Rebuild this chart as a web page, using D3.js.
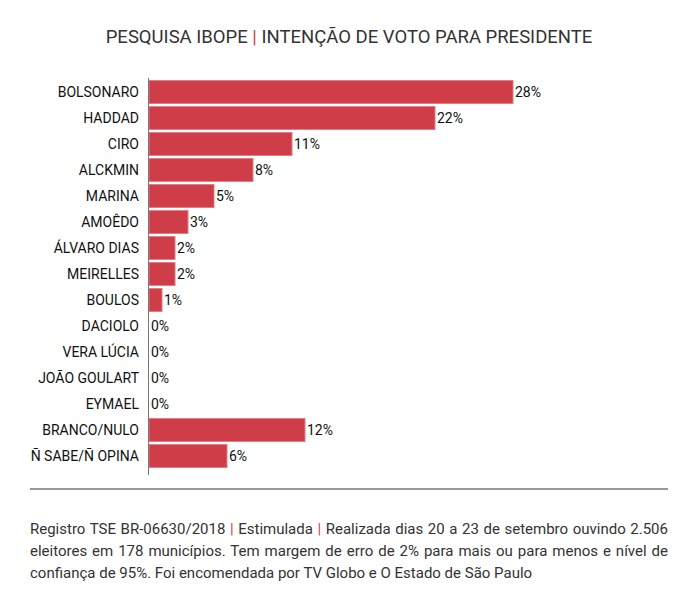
<!DOCTYPE html>
<html>
<head>
<meta charset="utf-8">
<script src="https://cdn.jsdelivr.net/npm/d3@7"></script>
<style>
  body { margin: 0; background: #fff; font-family: Roboto, sans-serif; }
  #chart { width: 697px; height: 607px; position: relative; }
  .note {
    position: absolute; left: 30px; top: 518px; width: 638px;
    font-size: 15px; line-height: 22px; color: #333; text-align: justify;
    text-align-last: left;
  }
  .note span { color: #cf3d48; }
</style>
</head>
<body>
<div id="chart"><svg id="svg" width="697" height="607"></svg>
  <div class="note">Registro TSE BR-06630/2018 <span>|</span> Estimulada <span>|</span> Realizada dias 20 a 23 de setembro ouvindo 2.506 eleitores em 178 municípios. Tem margem de erro de 2% para mais ou para menos e nível de confiança de 95%. Foi encomendada por TV Globo e O Estado de São Paulo</div>
</div>
<script>
var candidates = ["BOLSONARO", "HADDAD", "CIRO", "ALCKMIN", "MARINA", "AMOÊDO", "ÁLVARO DIAS",
  "MEIRELLES", "BOULOS", "DACIOLO", "VERA LÚCIA", "JOÃO GOULART", "EYMAEL", "BRANCO/NULO", "Ñ SABE/Ñ OPINA"];
var votes = [28, 22, 11, 8, 5, 3, 2, 2, 1, 0, 0, 0, 0, 12, 6];

var svg = d3.select("#svg");

// title
var title = svg.append("text")
  .attr("x", 349).attr("y", 43)
  .attr("text-anchor", "middle")
  .style("font-size", "18.5px")
  .style("fill", "#333");
title.append("tspan").text("PESQUISA IBOPE ");
title.append("tspan").text("|").style("fill", "#cf3d48");
title.append("tspan").text(" INTENÇÃO DE VOTO PARA PRESIDENTE");

var x = d3.scaleLinear().domain([0, 28]).range([149, 513]);
var y = d3.scaleBand().domain(candidates).range([79, 469]).paddingInner(0.12).paddingOuter(0.06);

var data = candidates.map(function(c, i) { return { name: c, value: votes[i] }; });

svg.selectAll("rect.bar")
  .data(data)
  .enter()
  .append("rect")
  .attr("class", "bar")
  .attr("x", x(0))
  .attr("y", function(d) { return y(d.name); })
  .attr("width", function(d) { return x(d.value) - x(0); })
  .attr("height", y.bandwidth())
  .attr("fill", "#cf3d48")
  .attr("stroke", function(d) { return d.value > 0 ? "#e07a82" : "none"; })
  .attr("stroke-width", 1);

// names
svg.selectAll("text.name")
  .data(data)
  .enter()
  .append("text")
  .attr("class", "name")
  .attr("x", 139)
  .attr("y", function(d) { return y(d.name) + y.bandwidth() / 2; })
  .attr("dy", "0.35em")
  .attr("text-anchor", "end")
  .style("font-size", "14px")
  .style("fill", "#111")
  .text(function(d) { return d.name; });

// values
svg.selectAll("text.val")
  .data(data)
  .enter()
  .append("text")
  .attr("class", "val")
  .attr("x", function(d) { return x(d.value) + 2; })
  .attr("y", function(d) { return y(d.name) + y.bandwidth() / 2; })
  .attr("dy", "0.35em")
  .style("font-size", "14px")
  .style("fill", "#111")
  .text(function(d) { return d.value + "%"; });

// axis line
svg.append("line")
  .attr("x1", x(0) - 0.5).attr("x2", x(0) - 0.5)
  .attr("y1", 78).attr("y2", 475)
  .attr("stroke", "#777").attr("stroke-width", 1);

// separator
svg.append("line")
  .attr("x1", 30).attr("x2", 668)
  .attr("y1", 489).attr("y2", 489)
  .attr("stroke", "#999").attr("stroke-width", 2);
</script>
</body>
</html>
